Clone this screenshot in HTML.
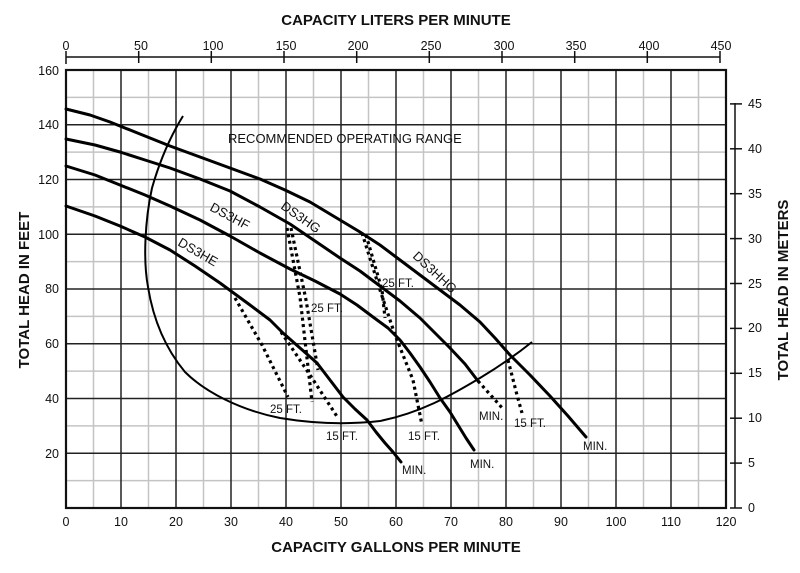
<!DOCTYPE html>
<html><head><meta charset="utf-8"><style>
body{margin:0;background:#fff}
text{font-family:"Liberation Sans",Arial,sans-serif;fill:#111}
</style></head><body>
<svg width="800" height="568" viewBox="0 0 800 568" xmlns="http://www.w3.org/2000/svg">
<g id="grid">
<g stroke="#c4c4c4" stroke-width="1.5">
<line x1="93.5" y1="70" x2="93.5" y2="508"/><line x1="148.5" y1="70" x2="148.5" y2="508"/><line x1="203.5" y1="70" x2="203.5" y2="508"/><line x1="258.5" y1="70" x2="258.5" y2="508"/><line x1="313.5" y1="70" x2="313.5" y2="508"/><line x1="368.5" y1="70" x2="368.5" y2="508"/><line x1="423.5" y1="70" x2="423.5" y2="508"/><line x1="478.5" y1="70" x2="478.5" y2="508"/><line x1="533.5" y1="70" x2="533.5" y2="508"/><line x1="588.5" y1="70" x2="588.5" y2="508"/><line x1="643.5" y1="70" x2="643.5" y2="508"/><line x1="698.5" y1="70" x2="698.5" y2="508"/>
<line x1="66" y1="480.6" x2="726" y2="480.6"/><line x1="66" y1="425.9" x2="726" y2="425.9"/><line x1="66" y1="371.1" x2="726" y2="371.1"/><line x1="66" y1="316.4" x2="726" y2="316.4"/><line x1="66" y1="261.6" x2="726" y2="261.6"/><line x1="66" y1="206.9" x2="726" y2="206.9"/><line x1="66" y1="152.1" x2="726" y2="152.1"/><line x1="66" y1="97.4" x2="726" y2="97.4"/>
</g>
<g stroke="#222" stroke-width="1.5">
<line x1="121" y1="70" x2="121" y2="508"/><line x1="176" y1="70" x2="176" y2="508"/><line x1="231" y1="70" x2="231" y2="508"/><line x1="286" y1="70" x2="286" y2="508"/><line x1="341" y1="70" x2="341" y2="508"/><line x1="396" y1="70" x2="396" y2="508"/><line x1="451" y1="70" x2="451" y2="508"/><line x1="506" y1="70" x2="506" y2="508"/><line x1="561" y1="70" x2="561" y2="508"/><line x1="616" y1="70" x2="616" y2="508"/><line x1="671" y1="70" x2="671" y2="508"/>
<line x1="66" y1="453.3" x2="726" y2="453.3"/><line x1="66" y1="398.5" x2="726" y2="398.5"/><line x1="66" y1="343.8" x2="726" y2="343.8"/><line x1="66" y1="289" x2="726" y2="289"/><line x1="66" y1="234.3" x2="726" y2="234.3"/><line x1="66" y1="179.5" x2="726" y2="179.5"/><line x1="66" y1="124.8" x2="726" y2="124.8"/>
</g>
<rect x="66" y="70" width="660" height="438" fill="none" stroke="#111" stroke-width="2.2"/>
</g>
<g stroke="#111" stroke-width="1.5">
<line x1="66" y1="57" x2="720" y2="57"/>
<line x1="66" y1="51" x2="66" y2="64"/><line x1="138.7" y1="51" x2="138.7" y2="63"/><line x1="211.3" y1="51" x2="211.3" y2="63"/><line x1="284" y1="51" x2="284" y2="63"/><line x1="356.7" y1="51" x2="356.7" y2="63"/><line x1="429.3" y1="51" x2="429.3" y2="63"/><line x1="502" y1="51" x2="502" y2="63"/><line x1="574.7" y1="51" x2="574.7" y2="63"/><line x1="647.3" y1="51" x2="647.3" y2="63"/><line x1="720" y1="51" x2="720" y2="63"/>
</g>
<g font-size="12.5" text-anchor="middle">
<text x="66" y="50">0</text><text x="141" y="50">50</text><text x="213" y="50">100</text><text x="286" y="50">150</text><text x="358" y="50">200</text><text x="431" y="50">250</text><text x="504" y="50">300</text><text x="576" y="50">350</text><text x="649" y="50">400</text><text x="721" y="50">450</text>
</g>
<g stroke="#111" stroke-width="1.5">
<line x1="735" y1="103" x2="735" y2="508"/>
<line x1="730" y1="508" x2="742" y2="508"/><line x1="730" y1="463.1" x2="742" y2="463.1"/><line x1="730" y1="418.2" x2="742" y2="418.2"/><line x1="730" y1="373.3" x2="742" y2="373.3"/><line x1="730" y1="328.4" x2="742" y2="328.4"/><line x1="730" y1="283.5" x2="742" y2="283.5"/><line x1="730" y1="238.6" x2="742" y2="238.6"/><line x1="730" y1="193.7" x2="742" y2="193.7"/><line x1="730" y1="148.8" x2="742" y2="148.8"/><line x1="730" y1="103.9" x2="742" y2="103.9"/>
</g>
<g font-size="12.5">
<text x="748" y="512">0</text><text x="748" y="467">5</text><text x="748" y="422">10</text><text x="748" y="377">15</text><text x="748" y="332">20</text><text x="748" y="288">25</text><text x="748" y="243">30</text><text x="748" y="198">35</text><text x="748" y="153">40</text><text x="748" y="108">45</text>
</g>
<g font-size="12.5" text-anchor="end">
<text x="59" y="458">20</text><text x="59" y="403">40</text><text x="59" y="348">60</text><text x="59" y="293">80</text><text x="59" y="239">100</text><text x="59" y="184">120</text><text x="59" y="129">140</text><text x="59" y="75">160</text>
</g>
<g font-size="12.5" text-anchor="middle">
<text x="66" y="526">0</text><text x="121" y="526">10</text><text x="176" y="526">20</text><text x="231" y="526">30</text><text x="286" y="526">40</text><text x="341" y="526">50</text><text x="396" y="526">60</text><text x="451" y="526">70</text><text x="506" y="526">80</text><text x="561" y="526">90</text><text x="616" y="526">100</text><text x="671" y="526">110</text><text x="726" y="526">120</text>
</g>
<g font-size="15" font-weight="bold" text-anchor="middle">
<text x="396" y="25">CAPACITY LITERS PER MINUTE</text>
<text x="396" y="552">CAPACITY GALLONS PER MINUTE</text>
<text transform="translate(29,290) rotate(-90)">TOTAL HEAD IN FEET</text>
<text transform="translate(788,290) rotate(-90)">TOTAL HEAD IN METERS</text>
</g>
<g fill="none" stroke="#000" stroke-width="3" stroke-linejoin="round" stroke-linecap="round">
<polyline points="66,109 90,115 110,122 140,134 170,146 200,157 230,168 260,179 285,190 310,202 335,217 360,232 380,245 400,260 420,275 440,290 460,305 480,322 495,338 510,355 530,375 550,396 568,416 586,437"/>
<polyline points="66,139 95,145 120,152 145,160 170,168 200,179 230,191 260,207 290,224 315,241 340,258 360,271 380,286 400,301 420,318 435,333 450,348 465,364 478,381"/>
<polyline points="66,166 95,175 120,185 145,195 170,206 200,220 230,236 260,253 290,269 315,281 340,294 357,305 373,317 388,328 400,340 410,353 420,367 430,382 440,398 450,412 458,425 466,438 474,450"/>
<polyline points="66,206 95,216 120,226 145,237 170,250 195,266 220,283 250,305 270,320 283,333 300,348 317,363 330,380 343,397 355,409 367,420 376,432 385,443 393,452 401,462"/>
</g>
<path fill="none" stroke="#000" stroke-width="2" d="M183,116 C170,137 160,160 152,188 C145,220 143,260 148,287 C153,318 165,348 185,372 C205,392 240,410 280,418 C310,423 345,425 380,421 C420,413 450,396 480,378 C500,366 517,354 532,342"/>
<g fill="none" stroke="#000" stroke-width="3.2" stroke-dasharray="3 3.5">
<polyline points="235,298 262,345 288,397"/>
<polyline points="281,332 310,375 338,418"/>
<polyline points="287,228 300,297 312,402"/>
<polyline points="291,228 306,300 318,370"/>
<polyline points="362,233 380,290 395,335 413,380 422,425"/>
<polyline points="366,235 382,290 385,318"/>
<polyline points="478,381 504,410"/>
<polyline points="508,360 517,395 522,413"/>
</g>
<g font-size="11.5">
<text x="270" y="413">25 FT.</text>
<text x="326" y="440">15 FT.</text>
<text x="408" y="440">15 FT.</text>
<text x="311" y="312">25 FT.</text>
<text x="382" y="287">25 FT.</text>
<text x="479" y="420">MIN.</text>
<text x="514" y="427">15 FT.</text>
<text x="402" y="474">MIN.</text>
<text x="470" y="468">MIN.</text>
<text x="583" y="450">MIN.</text>
<text x="228" y="143" font-size="13">RECOMMENDED OPERATING RANGE</text>
<text font-size="13" transform="translate(209,210) rotate(28)">DS3HF</text>
<text font-size="13" transform="translate(280,208) rotate(35)">DS3HG</text>
<text font-size="13" transform="translate(177,245) rotate(30)">DS3HE</text>
<text font-size="13" transform="translate(412,257) rotate(43)">DS3HHG</text>
</g>
</svg>
</body></html>
